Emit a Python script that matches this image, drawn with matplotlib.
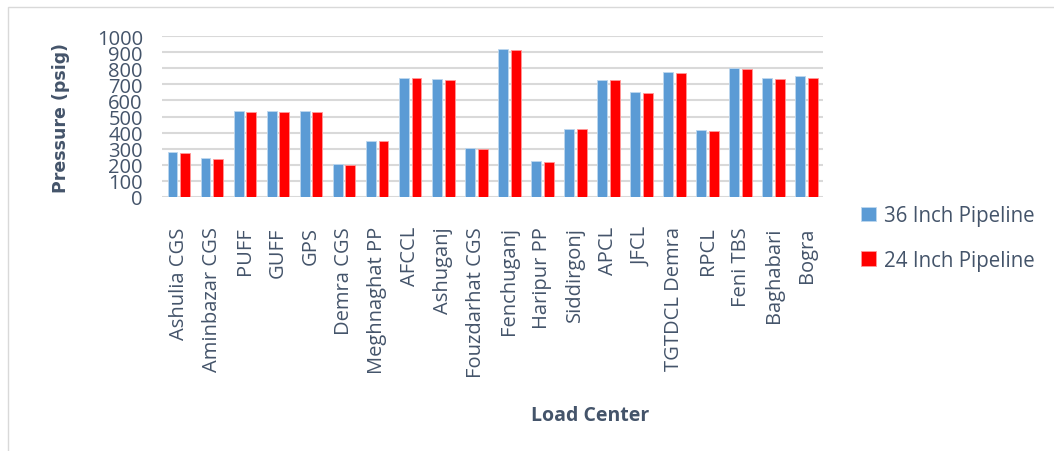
import numpy as np
import matplotlib.pyplot as plt
from matplotlib.patches import Rectangle

centers = [
    "Ashulia CGS", "Aminbazar CGS", "PUFF", "GUFF", "GPS", "Demra CGS",
    "Meghnaghat PP", "AFCCL", "Ashuganj", "Fouzdarhat CGS", "Fenchuganj",
    "Haripur PP", "Siddirgonj", "APCL", "JFCL", "TGTDCL Demra", "RPCL",
    "Feni TBS", "Baghabari", "Bogra",
]
pipe_36 = [279, 244, 533, 533, 533, 202, 349, 738, 731, 306, 919,
           223, 424, 729, 651, 777, 417, 802, 742, 750]
pipe_24 = [271, 238, 527, 527, 527, 198, 349, 738, 727, 300, 915,
           219, 424, 725, 647, 771, 413, 798, 733, 738]
yticks = list(range(0, 1001, 100))

text_col = "#44546A"
blue = "#5B9BD5"
red = "#FF0000"

fig = plt.figure(figsize=(10.54, 4.52), dpi=100)
ax = fig.add_axes([0.154, 0.562, 0.627, 0.356])

# light frame round the whole chart
fig.patches.append(Rectangle((0.008, -0.05), 1.2, 1.032, transform=fig.transFigure,
                             fill=False, edgecolor="#D9D9D9", linewidth=1.0))

x = np.arange(len(centers))
w = 0.3
off = 0.193
ax.bar(x - off, pipe_36, w, color=blue, edgecolor="#BDD7EE", linewidth=0.6,
       label="36 Inch Pipeline", zorder=3)
ax.bar(x + off, pipe_24, w, color=red, edgecolor="#FF9999", linewidth=0.6,
       label="24 Inch Pipeline", zorder=3)

ax.set_xlim(-0.5, len(centers) - 0.5)
ax.set_ylim(0, 1000)
ax.set_yticks(yticks)
ax.set_yticklabels([str(v) for v in yticks], fontsize=14.5, color=text_col,
                   family="Open Sans")
ax.set_xticks(x)
ax.set_xticklabels(centers, rotation=90, fontsize=14.5, color=text_col,
                   family="Open Sans")
ax.tick_params(axis="both", length=0)
ax.tick_params(axis="x", pad=21)
ax.tick_params(axis="y", pad=14)
ax.grid(axis="y", color="#D9D9D9", linewidth=1.5, zorder=0)
for s in ax.spines.values():
    s.set_visible(False)

ax.set_ylabel("Pressure (psig)", fontsize=12.5, fontweight="bold", color=text_col,
              family="DejaVu Sans", labelpad=19)
fig.text(0.56, 0.08, "Load Center", fontsize=14, fontweight="bold",
         color=text_col, ha="center", va="center", family="Open Sans")

leg = ax.legend(loc="center left", bbox_to_anchor=(1.03, -0.255), frameon=False,
                labelspacing=1.15, handlelength=0.7, handleheight=0.7,
                handletextpad=0.4, prop={"family": "Open Sans", "size": 14.8})
for t in leg.get_texts():
    t.set_color(text_col)

fig.savefig("out.png", dpi=100, facecolor="white")
